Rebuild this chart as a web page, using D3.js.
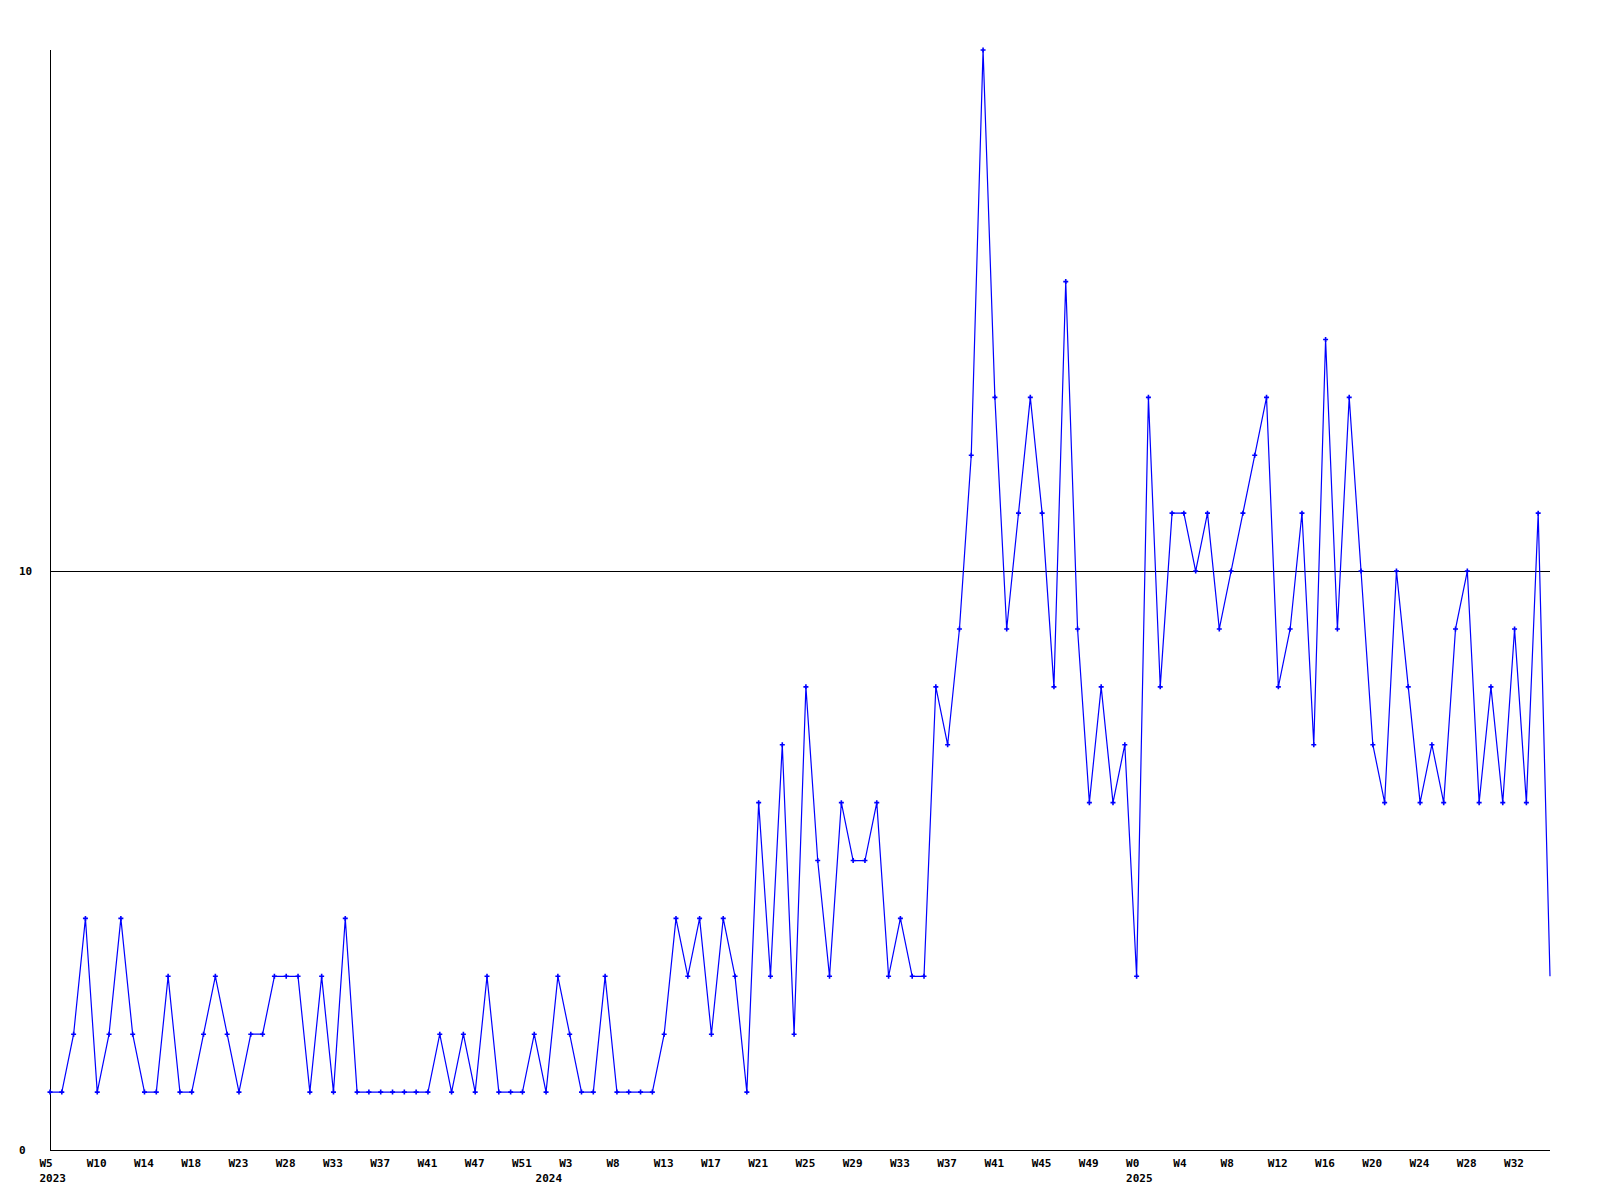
<!DOCTYPE html>
<html>
<head>
<meta charset="utf-8">
<script src="https://cdn.jsdelivr.net/npm/d3@7"></script>
<style>
  html, body { margin: 0; padding: 0; background: #fff; }
  svg { display: block; }
  text { font-family: "DejaVu Sans Mono", "Liberation Mono", monospace; font-weight: bold; font-size: 11px; fill: #000; }
</style>
</head>
<body>
<script>
// ---- data ----
const values = [
  1,1,2,4,1,2,4,2,1,1,3,1,1,2,3,2,1,2,2,3,3,3,1,3,1,4,1,1,1,1,
  1,1,1,2,1,2,1,3,1,1,1,2,1,3,2,1,1,3,1,1,1,1,2,4,3,4,2,4,3,1,
  6,3,7,2,8,5,3,6,5,5,6,3,4,3,3,8,7,9,12,19,13,9,11,13,11,8,15,9,6,8,
  6,7,3,13,8,11,11,10,11,9,10,11,12,13,8,9,11,7,14,9,13,10,7,6,10,8,6,7,6,9,10,6,8,6,9,6,11,3
];
const weekTickLabels = [
  "W5","W10","W14","W18","W23","W28","W33","W37","W41","W47","W51",
  "W3","W8","W13","W17","W21","W25","W29","W33","W37","W41","W45","W49",
  "W0","W4","W8","W12","W16","W20","W24","W28","W32"
];
const weekTickEvery = 4;
const yearLabels = ["2023", "2024", "2025"];
const yearStartIndex = [0, 42, 92];
const yTicks = [0, 10];

// ---- layout ----
const W = 1600, H = 1200;
const mLeft = 50, mRight = 1550, mTop = 50, mBottom = 1150;

const svg = d3.select("body").append("svg").attr("width", W).attr("height", H);

const x = d3.scaleLinear().domain([0, values.length - 1]).range([mLeft, mRight]);
const y = d3.scaleLinear().domain([0, d3.max(values)]).range([mBottom, mTop]);

// axes lines
svg.append("line").attr("x1", mLeft + 0.5).attr("x2", mLeft + 0.5).attr("y1", mTop).attr("y2", mBottom)
  .attr("stroke", "#000").attr("stroke-width", 1).attr("shape-rendering", "crispEdges");
svg.append("line").attr("x1", mLeft).attr("x2", mRight).attr("y1", mBottom + 0.5).attr("y2", mBottom + 0.5)
  .attr("stroke", "#000").attr("stroke-width", 1).attr("shape-rendering", "crispEdges");

// horizontal grid line(s) and y labels
yTicks.forEach(t => {
  if (t > 0) {
    svg.append("line").attr("x1", mLeft).attr("x2", mRight)
      .attr("y1", Math.round(y(t)) + 0.5).attr("y2", Math.round(y(t)) + 0.5)
      .attr("stroke", "#000").attr("stroke-width", 1).attr("shape-rendering", "crispEdges");
  }
  svg.append("text").attr("x", 19).attr("y", y(t) + 4).text(String(t));
});

// x week labels
const tickIdx = weekTickLabels.map((_, k) => k * weekTickEvery);
svg.selectAll("text.wk").data(tickIdx).enter().append("text").attr("class", "wk")
  .attr("x", d => x(d) - 10.5).attr("y", 1167)
  .text((d, k) => weekTickLabels[k]);

// year labels
svg.selectAll("text.yr").data(yearStartIndex).enter().append("text").attr("class", "yr")
  .attr("x", d => x(d) - 10.5).attr("y", 1182)
  .text((d, k) => yearLabels[k]);

// line
const line = d3.line().x((d, i) => x(i)).y(d => y(d));
svg.append("path").datum(values).attr("d", line)
  .attr("fill", "none").attr("stroke", "#0000ff").attr("stroke-width", 1.2);

// markers (all but last)
const sym = "M-2.5,0H2.5M0,-2.5V2.5";
svg.selectAll("path.mk").data(values.slice(0, -1)).enter().append("path").attr("class", "mk")
  .attr("transform", (d, i) => `translate(${x(i)},${y(d)})`)
  .attr("d", sym).attr("stroke", "#0000ff").attr("stroke-width", 1.6).attr("fill", "none");
</script>
</body>
</html>
